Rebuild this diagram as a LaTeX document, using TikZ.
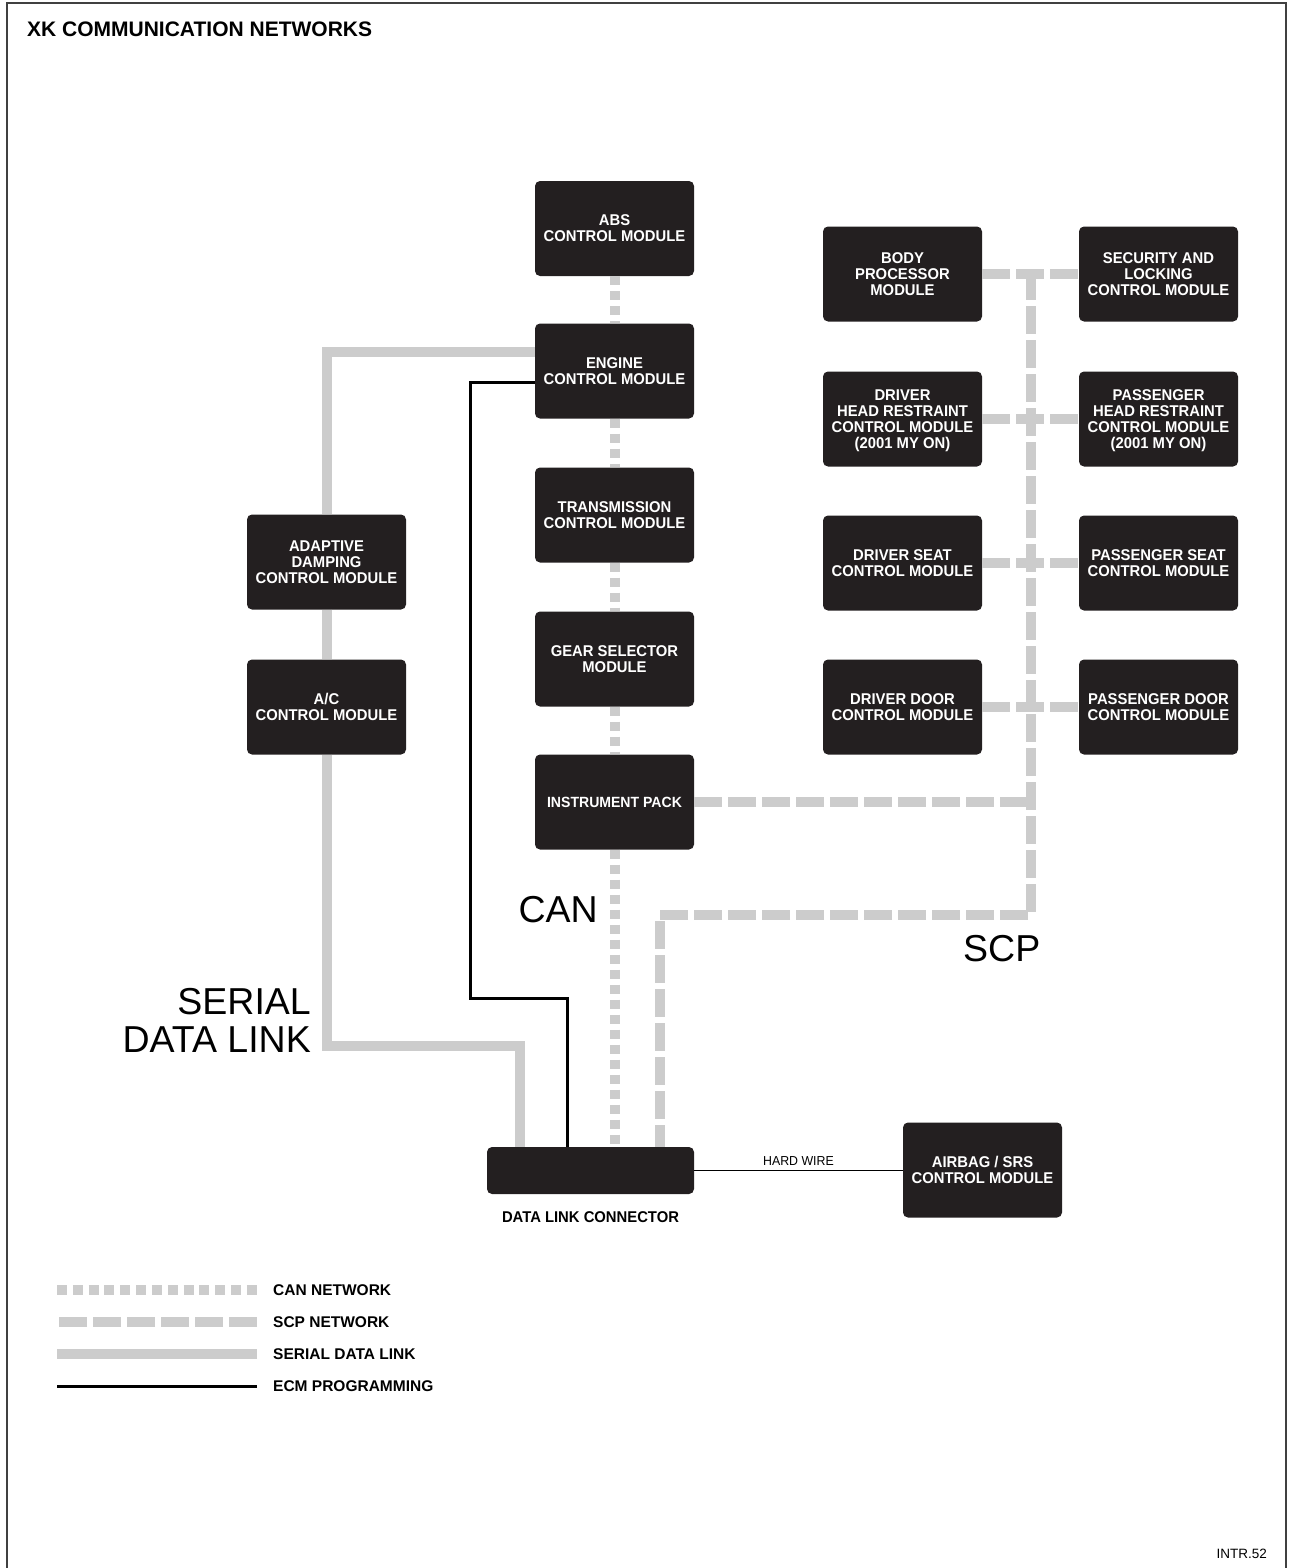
\documentclass[tikz,border=0pt]{standalone}
\usepackage{fontspec}
\setmainfont{Liberation Sans}
\newfontfamily\narrowsans{Liberation Sans}[FakeStretch=0.95]
\usetikzlibrary{positioning}

\definecolor{boxfill}{HTML}{231F20}
\definecolor{netgray}{HTML}{CCCCCC}
\newcommand\modfont{\narrowsans\fontsize{15.6}{16}\selectfont\bfseries}
\newcommand\bigfont{\fontsize{37.5}{38}\selectfont}

\tikzset{
  module/.style={fill=boxfill, rounded corners=5pt, minimum width=159pt, minimum height=95pt,
    inner sep=0pt, text=white, align=center, text depth=0pt, font=\modfont},
  can/.style={line width=10pt, netgray, dash pattern=on 9pt off 6pt},
  scp/.style={line width=10pt, netgray, dash pattern=on 28pt off 6pt},
  sdl/.style={line width=10pt, netgray},
  ecmline/.style={line width=3pt, black},
  legendtext/.style={anchor=west, inner sep=0pt, font=\fontsize{15.5}{16}\selectfont\bfseries},
}

\begin{document}
\begin{tikzpicture}[x=1pt, y=-1pt]
\useasboundingbox (0,0) rectangle (1290,1568);
\draw[line width=1.5pt, black!75] (7,1568) -- (7,3) -- (1286,3) -- (1286,1568);
\node[anchor=base west, inner sep=0pt, font=\fontsize{21}{22}\selectfont\bfseries] (title) at (27,37) {XK COMMUNICATION NETWORKS};

\node[module] (abs) at (614.5,228.5) {ABS\\ CONTROL MODULE};
\node[module] (ecm) at (614.5,371) {ENGINE\\ CONTROL MODULE};
\node[module] (tcm) at (614.5,515) {TRANSMISSION\\ CONTROL MODULE};
\node[module] (gsm) at (614.5,659) {GEAR SELECTOR\\ MODULE};
\node[module, font=\narrowsans\fontsize{14.8}{16}\selectfont\bfseries] (ipk) at (614.5,802) {INSTRUMENT PACK};
\node[module] (adm) at (326.5,562) {ADAPTIVE\\ DAMPING\\ CONTROL MODULE};
\node[module] (acm) at (326.5,707) {A/C\\ CONTROL MODULE};
\node[module] (bpm) at (902.5,274) {BODY\\ PROCESSOR\\ MODULE};
\node[module] (slcm) at (1158.5,274) {SECURITY AND\\ LOCKING\\ CONTROL MODULE};
\node[module] (dhr) at (902.5,419) {DRIVER\\ HEAD RESTRAINT\\ CONTROL MODULE\\ (2001 MY ON)};
\node[module] (phr) at (1158.5,419) {PASSENGER\\ HEAD RESTRAINT\\ CONTROL MODULE\\ (2001 MY ON)};
\node[module] (dsm) at (902.5,563) {DRIVER SEAT\\ CONTROL MODULE};
\node[module] (psm) at (1158.5,563) {PASSENGER SEAT\\ CONTROL MODULE};
\node[module] (ddm) at (902.5,707) {DRIVER DOOR\\ CONTROL MODULE};
\node[module] (pdm) at (1158.5,707) {PASSENGER DOOR\\ CONTROL MODULE};
\node[module] (srs) at (982.5,1170) {AIRBAG / SRS\\ CONTROL MODULE};
\node[module, minimum width=207pt, minimum height=47pt] (dlc) at (590.5,1170.5) {};
\node[below=17pt of dlc, inner sep=0pt, font=\modfont] (dlclbl) {DATA LINK CONNECTOR};

\coordinate (scptop) at (1031,272);
\coordinate (scpbend) at (1031,915);
\coordinate (scpdlc) at (660,915);
\coordinate (sdlknee) at (520,1046);
\coordinate (ecmknee) at (470,998);
\coordinate (ecmdrop) at (567,998);

\draw[can] (abs) -- (ecm);
\draw[can] (ecm) -- (tcm);
\draw[can] (tcm) -- (gsm);
\draw[can] (gsm) -- (ipk);
\draw[can] (ipk) -- (ipk |- dlc.north);

\draw[scp] (bpm) -- (slcm);
\draw[scp] (dhr) -- (phr);
\draw[scp] (dsm) -- (psm);
\draw[scp] (ddm) -- (pdm);
\draw[scp] (scptop) -- (scpbend) -- (scpdlc) -- (scpdlc |- dlc.north);
\draw[scp] (ipk) -- (ipk -| scpbend);

\draw[sdl] ([yshift=19pt]ecm.west) -| (adm);
\draw[sdl] (adm) -- (acm);
\draw[sdl] (acm) |- (sdlknee) -- (sdlknee |- dlc.north);

\draw[ecmline] ([yshift=-11pt]ecm.west) -| (ecmknee) -- (ecmdrop) -- (ecmdrop |- dlc.north);

\draw[line width=1.5pt] (dlc.east) -- node[above=4pt, inner sep=0pt, font=\narrowsans\fontsize{13}{13}\selectfont] (hwlbl) {HARD WIRE} (dlc.east -| srs.west);

\node[anchor=base east, inner sep=0pt, font=\bigfont] (canlbl) at (598,922) {CAN};
\node[anchor=base west, inner sep=0pt, font=\bigfont] (scplbl) at (963,961) {SCP};
\node[anchor=base east, inner sep=0pt, align=right, font=\bigfont] (sdllbl) at (311,1052) {SERIAL\\ DATA LINK};

\node[legendtext] (lgcan) at (273,1290) {CAN NETWORK};
\node[legendtext] (lgscp) at (273,1322) {SCP NETWORK};
\node[legendtext] (lgsdl) at (273,1354) {SERIAL DATA LINK};
\node[legendtext] (lgecm) at (273,1386) {ECM PROGRAMMING};
\draw[can, dash pattern=on 10pt off 5.83pt] ([xshift=-216pt]lgcan.west) -- ([xshift=-16pt]lgcan.west);
\draw[scp] ([xshift=-16pt]lgscp.west) -- ++(-200,0);
\draw[sdl] ([xshift=-16pt]lgsdl.west) -- ++(-200,0);
\draw[ecmline] ([xshift=-16pt]lgecm.west) -- ++(-200,0);

\node[anchor=base east, inner sep=0pt, font=\fontsize{13.5}{14}\selectfont] (figid) at (1267,1558) {INTR.52};
\end{tikzpicture}
\end{document}
